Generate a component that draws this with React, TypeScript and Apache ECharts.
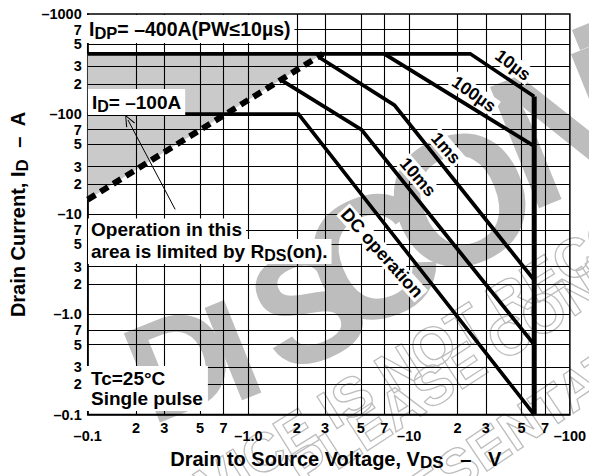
import { useEffect, useRef } from 'react';
import * as echarts from 'echarts';

const FONT = '"Liberation Sans", Arial, Helvetica, sans-serif';

// Axis ticks (magnitudes; labels carry the minus sign as printed)
const X_TICKS = [0.1, 0.2, 0.3, 0.5, 0.7, 1, 2, 3, 5, 7, 10, 20, 30, 50, 70, 100];
const X_TICK_LABELS = ['–0.1', '2', '3', '5', '7', '–1.0', '2', '3', '5', '7', '–10', '2', '3', '5', '7', '–100'];
const X_DECADES = [0.1, 1, 10, 100];
const Y_TICKS = [0.1, 0.2, 0.3, 0.5, 0.7, 1, 2, 3, 5, 7, 10, 20, 30, 50, 70, 100, 200, 300, 500, 700, 1000];
const Y_TICK_LABELS = ['–0.1', '2', '3', '5', '7', '–1.0', '2', '3', '5', '7', '–10', '2', '3', '5', '7', '–100', '2', '3', '5', '7', '–1000'];
const X_GRID = [0.2, 0.3, 0.5, 0.7, 1, 2, 3, 5, 7, 10, 20, 30, 50, 70];
const Y_GRID = [0.2, 0.3, 0.5, 0.7, 1, 2, 3, 5, 7, 10, 20, 30, 50, 70, 100, 200, 300, 500, 700];

// Safe operating area boundaries: [|VDS| (V), |ID| (A)]
const PW_10US = [[0.1, 400], [24, 400], [60, 150]];
const PW_100US = [[7, 400], [60, 48]];
const PW_1MS = [[2.75, 370], [8.1, 123], [60, 2.2]];
const PW_10MS = [[1.63, 215], [5.05, 70], [60, 0.5]];
const DC_OPERATION = [[0.1, 100], [2.05, 100], [60, 0.1]];
const VDSS_LIMIT = [[60, 150], [60, 0.1]];
const RDS_ON_LIMIT = [[0.1, 14], [2.9, 400]];
const RDS_ON_AREA = [[0.1, 14], [0.1, 400], [2.9, 400]];
const NOTE_ARROW = [[0.35, 11.2], [0.178, 87.5]];

// Watermark letters: [char, centre x, centre y, font size]
const WATERMARK_LETTERS: [string, number, number, number][] = [
  ['D', 180, 362, 140],
  ['I', 233, 350, 145],
  ['S', 308, 305, 160],
  ['C', 372, 258, 175],
  ['O', 460, 200, 185],
  ['N', 566, 126, 190],
  ['T', 650, 70, 195],
];

function findTick(v: number, ticks: number[]) {
  const lv = Math.log10(v);
  for (let i = 0; i < ticks.length; i++) {
    if (Math.abs(Math.log10(ticks[i]) - lv) < 1e-6) return i;
  }
  return -1;
}

const deg = (d: number) => (d * Math.PI) / 180;

function curve(data: number[][], width: number, extraLine: any = {}) {
  return {
    type: 'line',
    data,
    symbol: 'none',
    showSymbol: false,
    silent: true,
    z: 3,
    lineStyle: { color: '#000', width, join: 'miter', cap: 'butt', ...extraLine },
  };
}

function textEl(x: number, y: number, text: string, opts: any = {}) {
  const fs = opts.fontSize || 19;
  return {
    type: 'text',
    x,
    y,
    z: 20,
    rotation: opts.rotation || 0,
    silent: true,
    style: {
      text,
      fontSize: fs,
      fontWeight: 'bold',
      fontFamily: FONT,
      fill: '#000',
      align: opts.align || 'left',
      verticalAlign: opts.verticalAlign || 'top',
      backgroundColor: opts.bg,
      padding: opts.padding,
      lineHeight: opts.lineHeight,
      rich: {
        s: {
          fontSize: fs - 3,
          fontWeight: 'bold',
          fontFamily: FONT,
          fill: '#000',
          padding: [7, 0, 0, 0],
        },
      },
    },
  };
}

function outlineText(x: number, y: number, angle: number, text: string) {
  return {
    type: 'text', x, y, z: -10, silent: true, rotation: deg(angle),
    style: {
      text, fontSize: 55, fontWeight: 'bold', fontFamily: FONT,
      fill: 'none', stroke: '#bdbdbd', lineWidth: 1.3, align: 'left', verticalAlign: 'middle',
    },
  };
}

export default function App() {
  const ref = useRef<HTMLDivElement>(null);

  useEffect(() => {
    document.body.style.margin = '0';
    const chart = echarts.init(ref.current!, undefined, { renderer: 'svg' });

    const labelBase = { color: '#000', fontSize: 14.5, fontWeight: 'bold', fontFamily: FONT };
    const nameStyle = {
      color: '#000',
      fontSize: 20,
      fontWeight: 'bold',
      fontFamily: FONT,
      rich: { s: { color: '#000', fontSize: 17, fontWeight: 'bold', fontFamily: FONT, padding: [8, 0, 0, 0] } },
    };

    const option: any = {
      animation: false,
      backgroundColor: '#fff',
      grid: {
        left: 84,
        right: 16,
        top: 14,
        bottom: 53.5,
        show: true,
        borderColor: '#000',
        borderWidth: 1.5,
        backgroundColor: 'transparent',
      },
      xAxis: {
        type: 'log',
        logBase: 10,
        min: 0.1,
        max: 100,
        axisLine: { show: true, lineStyle: { color: '#000', width: 1.5 } },
        axisTick: { show: false },
        splitLine: { show: false },
        minorTick: { show: false },
        minorSplitLine: { show: false },
        axisLabel: {
          ...labelBase,
          margin: 6,
          customValues: X_TICKS,
          hideOverlap: false,
          formatter: (v: number) => {
            const i = findTick(v, X_TICKS);
            if (i < 0) return '';
            const lbl = X_TICK_LABELS[i];
            return X_DECADES.some((d) => Math.abs(Math.log10(d) - Math.log10(v)) < 1e-6) ? `{d|${lbl}}` : lbl;
          },
          rich: { d: { ...labelBase, padding: [8, 0, 0, 0] } },
        },
        name: 'Drain to Source Voltage, V{s|DS}   –   V',
        nameLocation: 'middle',
        nameGap: 21,
        nameTextStyle: { ...nameStyle, padding: [0, 0, 0, 14] },
      },
      yAxis: {
        type: 'log',
        logBase: 10,
        min: 0.1,
        max: 1000,
        axisLine: { show: true, lineStyle: { color: '#000', width: 1.5 } },
        axisTick: { show: false },
        splitLine: { show: false },
        minorTick: { show: false },
        minorSplitLine: { show: false },
        axisLabel: {
          ...labelBase,
          margin: 6,
          customValues: Y_TICKS,
          hideOverlap: false,
          formatter: (v: number) => {
            const i = findTick(v, Y_TICKS);
            return i < 0 ? '' : Y_TICK_LABELS[i];
          },
        },
        name: 'Drain Current, I{s|D}  –  A',
        nameLocation: 'middle',
        nameGap: 53,
        nameTextStyle: nameStyle,
      },
      series: [
        {
          type: 'custom',
          z: 1,
          silent: true,
          data: [RDS_ON_AREA[0]],
          renderItem: (_p: any, api: any) => ({
            type: 'polygon',
            shape: { points: RDS_ON_AREA.map((p) => api.coord(p)) },
            style: { fill: '#cacaca' },
          }),
        },
        {
          type: 'line',
          data: [],
          z: 2,
          silent: true,
          markLine: {
            silent: true,
            symbol: ['none', 'none'],
            label: { show: false },
            lineStyle: { color: '#000', width: 1.1, type: 'solid' },
            data: [...X_GRID.map((v) => ({ xAxis: v })), ...Y_GRID.map((v) => ({ yAxis: v }))],
          },
        },
        curve(PW_10US, 3.6),
        curve(PW_100US, 3.8),
        curve(PW_1MS, 3.8),
        curve(PW_10MS, 3.8),
        curve(DC_OPERATION, 3.6),
        curve(VDSS_LIMIT, 5),
        curve(RDS_ON_LIMIT, 6, { type: [9, 6] }),
        {
          type: 'line',
          data: [],
          z: 4,
          silent: true,
          markLine: {
            silent: true,
            symbol: ['none', 'path://M0,0 L-5,12 L-4,12.6 L0,2.4 L4,12.6 L5,12 Z'],
            symbolSize: [10, 12],
            label: { show: false },
            itemStyle: { color: '#000' },
            lineStyle: { color: '#000', width: 1, type: 'solid' },
            data: [[{ coord: NOTE_ARROW[0] }, { coord: NOTE_ARROW[1] }]],
          },
        },
      ],
      graphic: [
        // watermark
        ...WATERMARK_LETTERS.map(([ch, x, y, fs]) => ({
          type: 'text', x, y, z: -10, silent: true, rotation: deg(22),
          style: { text: ch, fontSize: fs, fontWeight: 'bold', fontFamily: FONT, fill: '#bdbdbd', align: 'center', verticalAlign: 'middle' },
        })),
        outlineText(107, 550, 32, 'SERVICE IS NOT RECOMMENDED.'),
        outlineText(295, 475, 33, 'PLEASE CONTACT YOUR'),
        outlineText(286, 584, 34, 'REPRESENTATIVE'),
        // annotations
        textEl(85, 15, 'I{s|DP}= –400A(PW≤10µs)', { fontSize: 19.5, bg: '#fff', padding: [2, 4, 2, 4] }),
        textEl(88, 89, 'I{s|D}= –100A', { fontSize: 19, bg: '#fff', padding: [2, 4, 1, 4] }),
        textEl(88, 229, 'Operation in this', { verticalAlign: 'middle', bg: '#fff', padding: [1, 4, 1, 3] }),
        textEl(88, 251.5, 'area is limited by R{s|DS}(on).', { verticalAlign: 'middle', bg: '#fff', padding: [1, 4, 1, 3] }),
        textEl(86, 366, 'Tc=25°C\nSingle pulse', { bg: '#fff', padding: [2, 5, 3, 5], lineHeight: 20 }),
        // curve labels
        textEl(513, 65, '10µs', { fontSize: 17.5, align: 'center', verticalAlign: 'middle', rotation: deg(-37), bg: '#fff', padding: [0, 2, 0, 2] }),
        textEl(474, 94, '100µs', { fontSize: 17.5, align: 'center', verticalAlign: 'middle', rotation: deg(-35), bg: '#fff', padding: [0, 2, 0, 2] }),
        textEl(446, 148, '1ms', { fontSize: 17.5, align: 'center', verticalAlign: 'middle', rotation: deg(-49), bg: '#fff', padding: [0, 2, 0, 2] }),
        textEl(418, 177, '10ms', { fontSize: 17.5, align: 'center', verticalAlign: 'middle', rotation: deg(-49), bg: '#fff', padding: [0, 2, 0, 2] }),
        textEl(382, 253, 'DC operation', { fontSize: 18, align: 'center', verticalAlign: 'middle', rotation: deg(-48), bg: '#fff', padding: [0, 2, 0, 2] }),
      ],
    };

    chart.setOption(option);
    return () => chart.dispose();
  }, []);

  return <div ref={ref} style={{ width: 589, height: 476 }} />;
}
